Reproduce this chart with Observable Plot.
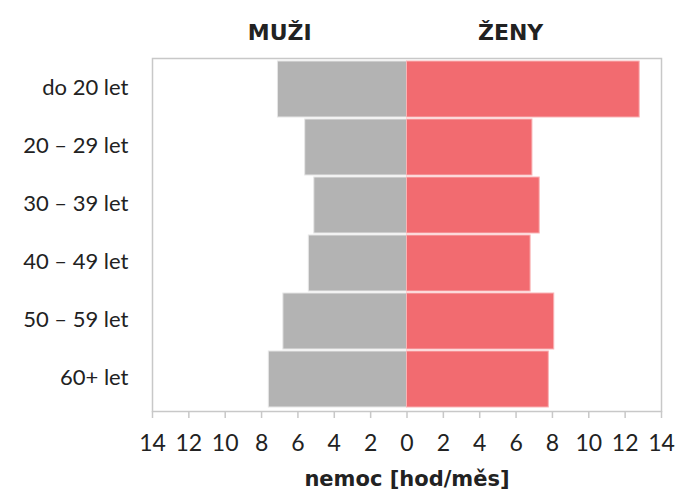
<!DOCTYPE html>
<html>
<head>
<meta charset="utf-8">
<script src="https://cdn.jsdelivr.net/npm/d3@7"></script>
<script src="https://cdn.jsdelivr.net/npm/@observablehq/plot@0.6"></script>
<style>
  html, body { margin: 0; padding: 0; background: #fff; }
  #chart svg { font-family: Lato, "Noto Sans", sans-serif; color: #222; }
</style>
</head>
<body>
<div id="chart"></div>
<script>
const ageGroups = ["do 20 let", "20 – 29 let", "30 – 39 let", "40 – 49 let", "50 – 59 let", "60+ let"];
const men = [7.1, 5.6, 5.1, 5.4, 6.8, 7.6];
const women = [12.8, 6.9, 7.3, 6.8, 8.1, 7.8];
const xTicks = [-14, -12, -10, -8, -6, -4, -2, 0, 2, 4, 6, 8, 10, 12, 14];
const groupTitles = ["MUŽI", "ŽENY"];
const axisTitle = "nemoc [hod/měs]";

const rows = ageGroups.map((g, i) => ({group: g, men: men[i], women: women[i]}));
const heavy = "'DejaVu Sans', sans-serif";

const chart = Plot.plot({
  width: 677,
  height: 493,
  marginLeft: 152,
  marginRight: 16,
  marginTop: 58,
  marginBottom: 82,
  x: {domain: [-14, 14], ticks: xTicks, tickFormat: d => Math.abs(d), label: null},
  y: {domain: ageGroups, padding: 0.03, label: null},
  marks: [
    Plot.barX(rows, {y: "group", x1: 0, x2: d => -d.men, fill: "#b3b3b3", stroke: "#e6e6e6", strokeWidth: 1}),
    Plot.barX(rows, {y: "group", x1: 0, x2: "women", fill: "#f26b70", stroke: "#f9b3b5", strokeWidth: 1}),
    Plot.frame({stroke: "#c8c8c8", strokeWidth: 1.5}),
    Plot.axisX({ticks: xTicks, tickFormat: d => Math.abs(d), tickSize: 7, tickPadding: 16, fontSize: 23, stroke: "#c8c8c8", strokeWidth: 1.5, label: null, color: "#222"}),
    Plot.axisY({tickSize: 0, tickPadding: 24, fontSize: 22, dy: -2, label: null}),
    Plot.text(groupTitles, {x: (d, i) => i === 0 ? -7 : 5.7, frameAnchor: "top", lineAnchor: "middle", dy: -26, text: d => d, fontSize: 22, fontWeight: "bold", fontFamily: heavy, fill: "#222"}),
    Plot.text([axisTitle], {frameAnchor: "bottom", lineAnchor: "middle", dy: 68, text: d => d, fontSize: 21, fontWeight: "bold", fontFamily: heavy, fill: "#222"})
  ]
});
document.getElementById("chart").appendChild(chart);
</script>
</body>
</html>
